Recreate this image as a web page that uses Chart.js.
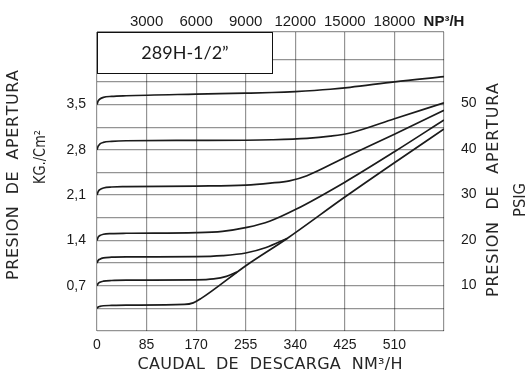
<!DOCTYPE html>
<html>
<head>
<meta charset="utf-8">
<script src="https://cdn.jsdelivr.net/npm/chart.js@4.4.0/dist/chart.umd.min.js"></script>
<style>
  html, body { margin: 0; padding: 0; background: #fff; }
</style>
</head>
<body>
<canvas id="chart" width="528" height="379"></canvas>
<script>
// ejes
const flowTicks = [0, 85, 170, 255, 340, 425, 510, 595];   // Nm3/h
const scfhTicks = [3000, 6000, 9000, 12000, 15000, 18000]; // NP3/H (eje superior)
const kgLabels = [0.7, 1.4, 2.1, 2.8, 3.5];                // kg/cm2
const psiTicks = [10, 20, 30, 40, 50];                     // PSIG
const kgMax = 4.62;

// curvas: x = caudal Nm3/h, y = presion kg/cm2
const flow35 = [0, 2, 5, 11, 25, 50, 170, 255, 300, 340, 400, 434, 510, 595];
const kg35 = [3.50, 3.555, 3.585, 3.61, 3.625, 3.635, 3.66, 3.675, 3.685, 3.70, 3.735, 3.765, 3.85, 3.93];

const flow28 = [0, 2, 5, 11, 25, 50, 170, 300, 360, 400, 434, 510, 595];
const kg28 = [2.80, 2.855, 2.89, 2.915, 2.93, 2.94, 2.945, 2.955, 2.975, 3.01, 3.06, 3.28, 3.525];

const flow21 = [0, 2, 5, 11, 25, 50, 170, 255, 297, 330, 360, 425, 510, 595];
const kg21 = [2.10, 2.155, 2.185, 2.21, 2.225, 2.23, 2.24, 2.255, 2.285, 2.32, 2.40, 2.68, 3.04, 3.41];

const flow14 = [0, 2, 5, 11, 25, 50, 170, 215, 257, 297, 341, 425, 510, 595];
const kg14 = [1.40, 1.45, 1.475, 1.495, 1.505, 1.51, 1.52, 1.54, 1.60, 1.70, 1.88, 2.30, 2.77, 3.26];

const flow105 = [0, 2, 5, 11, 25, 50, 170, 215, 255, 290, 326];
const kg105 = [1.05, 1.09, 1.11, 1.13, 1.14, 1.145, 1.15, 1.165, 1.205, 1.29, 1.43];

const flow07 = [0, 2, 5, 11, 25, 50, 170, 200, 222, 240];
const kg07 = [0.70, 0.735, 0.755, 0.77, 0.78, 0.785, 0.79, 0.805, 0.845, 0.91];

const flow035 = [0, 2, 5, 11, 25, 50, 150, 165, 178, 257, 326, 425, 510, 595];
const kg035 = [0.35, 0.37, 0.38, 0.39, 0.395, 0.40, 0.41, 0.435, 0.50, 1.02, 1.43, 2.07, 2.60, 3.12];

const curves = [
  [flow35, kg35], [flow28, kg28], [flow21, kg21], [flow14, kg14],
  [flow105, kg105], [flow07, kg07], [flow035, kg035]
];

const gridColor = 'rgba(0,0,0,0.42)';
const tickFont = { family: 'Liberation Sans, Arial, sans-serif', size: 14 };
const titleFont = '16px "DejaVu Sans", sans-serif';

// texto repartido a lo largo de un ancho fijo
function drawSpaced(ctx, text, cx, cy, width, angle, font) {
  ctx.save();
  ctx.translate(cx, cy);
  ctx.rotate(angle);
  ctx.font = font;
  ctx.fillStyle = '#262626';
  ctx.textBaseline = 'middle';
  ctx.textAlign = 'left';
  const chars = Array.from(text);
  const widths = chars.map(c => ctx.measureText(c).width);
  const natural = widths.reduce((a, b) => a + b, 0);
  let gap = (width - natural) / (chars.length - 1);
  let sx = 1;
  if (gap < 0) { sx = width / natural; gap = 0; }
  ctx.scale(sx, 1);
  let x = -width / 2 / sx;
  chars.forEach((c, i) => {
    ctx.fillText(c, x, 0);
    x += widths[i] + gap / sx;
  });
  ctx.restore();
}

const decor = {
  id: 'decor',
  afterDraw(chart) {
    const ctx = chart.ctx;
    const area = chart.chartArea;
    // recuadro del modelo
    ctx.save();
    ctx.fillStyle = '#fff';
    ctx.fillRect(area.left, area.top, 175, 41);
    ctx.strokeStyle = '#111';
    ctx.lineWidth = 1;
    ctx.strokeRect(area.left + 0.5, area.top + 0.5, 175, 41);
    ctx.fillStyle = '#1a1a1a';
    ctx.font = '18px Lato, sans-serif';
    ctx.textAlign = 'center';
    ctx.textBaseline = 'middle';
    ctx.fillText('289H-1/2\u201D', area.left + 88, area.top + 21);
    ctx.restore();

    const up = -Math.PI / 2;
    drawSpaced(ctx, 'PRESION  DE  APERTURA', 14, 175, 210, up, titleFont);
    drawSpaced(ctx, 'KG./Cm\u00B2', 41, 157, 54, up, titleFont);
    drawSpaced(ctx, 'PRESION  DE  APERTURA', 494, 190, 214, up, titleFont);
    drawSpaced(ctx, 'PSIG', 521, 200, 34, up, titleFont);
    drawSpaced(ctx, 'CAUDAL  DE  DESCARGA  NM\u00B3/H', 270, 365, 265, 0, titleFont);
  }
};

new Chart(document.getElementById('chart').getContext('2d'), {
  type: 'line',
  data: {
    datasets: curves.map(c => ({
      data: c[0].map((x, i) => ({ x: x, y: c[1][i] })),
      borderColor: '#1b1b1b',
      borderWidth: 1.7,
      pointRadius: 0,
      cubicInterpolationMode: 'monotone',
      xAxisID: 'x',
      yAxisID: 'y'
    }))
  },
  options: {
    responsive: false,
    animation: false,
    devicePixelRatio: 1,
    layout: { padding: 0 },
    plugins: { legend: { display: false }, tooltip: { enabled: false } },
    scales: {
      x: {
        type: 'linear', position: 'bottom', min: 0, max: 595,
        afterBuildTicks: a => { a.ticks = flowTicks.map(v => ({ value: v })); },
        afterFit: a => { a.height = 48; },
        ticks: {
          autoSkip: false, maxRotation: 0, padding: 6, color: '#1a1a1a', font: tickFont,
          callback: v => v === 595 ? '' : String(v)
        },
        grid: { color: gridColor, lineWidth: 1.2, drawTicks: false },
        border: { display: false }
      },
      xTop: {
        type: 'linear', position: 'top', min: 0, max: 21000,
        afterBuildTicks: a => { a.ticks = scfhTicks.concat([21000]).map(v => ({ value: v })); },
        afterFit: a => { a.height = 32; },
        ticks: {
          autoSkip: false, maxRotation: 0, padding: -7, color: '#1a1a1a',
          font: c => ({ family: 'Liberation Sans, Arial, sans-serif', size: 15,
                        weight: c.tick && c.tick.value === 21000 ? 'bold' : 'normal' }),
          callback: v => v === 21000 ? 'NP\u00B3/H' : String(v)
        },
        grid: { display: false },
        border: { display: false }
      },
      y: {
        type: 'linear', position: 'left', min: 0, max: kgMax,
        afterBuildTicks: a => {
          const t = [];
          for (let i = 0; i <= 12; i++) t.push({ value: i * 0.35 });
          t.push({ value: kgMax });
          a.ticks = t;
        },
        afterFit: a => { a.width = 97; },
        ticks: {
          autoSkip: false, padding: 11, color: '#1a1a1a', font: tickFont,
          callback: v => {
            const k = kgLabels.find(l => Math.abs(l - v) < 1e-6);
            return k ? k.toFixed(1).replace('.', ',') : '';
          }
        },
        grid: { color: gridColor, lineWidth: 1.2, drawTicks: false },
        border: { display: false }
      },
      yPsi: {
        type: 'linear', position: 'right', min: 0, max: kgMax * 14.223,
        afterBuildTicks: a => { a.ticks = psiTicks.map(v => ({ value: v })); },
        afterFit: a => { a.width = 84; },
        ticks: { autoSkip: false, padding: 9, color: '#1a1a1a', font: tickFont },
        grid: { display: false },
        border: { display: false }
      }
    }
  },
  plugins: [decor]
});
</script>
</body>
</html>
